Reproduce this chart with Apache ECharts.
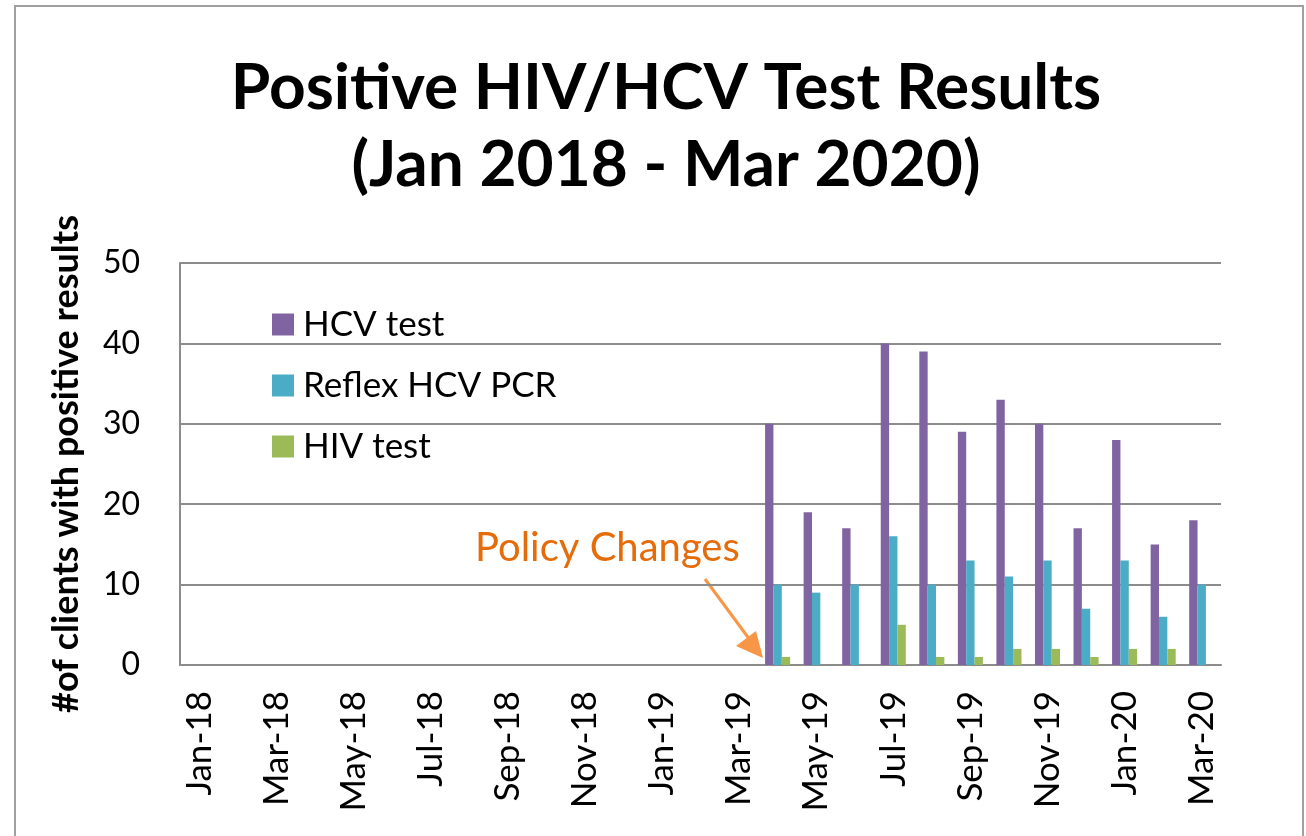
<!DOCTYPE html>
<html>
<head>
<meta charset="utf-8">
<script src="https://cdn.jsdelivr.net/npm/echarts@6/dist/echarts.min.js"></script>
<style>
  html, body { margin: 0; padding: 0; background: #fff; }
  #chart { width: 1306px; height: 836px; }
</style>
</head>
<body>
<div id="chart"></div>
<script>
// months on the category axis
const months = [
  "Jan-18", "Feb-18", "Mar-18", "Apr-18", "May-18", "Jun-18", "Jul-18", "Aug-18", "Sep-18",
  "Oct-18", "Nov-18", "Dec-18", "Jan-19", "Feb-19", "Mar-19", "Apr-19", "May-19", "Jun-19",
  "Jul-19", "Aug-19", "Sep-19", "Oct-19", "Nov-19", "Dec-19", "Jan-20", "Feb-20", "Mar-20"
];

// no data before Apr-19
const hcvTest = [
  0, 0, 0, 0, 0, 0, 0, 0, 0, 0, 0, 0, 0, 0, 0,
  30, 19, 17, 40, 39, 29, 33, 30, 17, 28, 15, 18
];
const reflexPcr = [
  0, 0, 0, 0, 0, 0, 0, 0, 0, 0, 0, 0, 0, 0, 0,
  10, 9, 10, 16, 10, 13, 11, 13, 7, 13, 6, 10
];
const hivTest = [
  0, 0, 0, 0, 0, 0, 0, 0, 0, 0, 0, 0, 0, 0, 0,
  1, 0, 0, 5, 1, 1, 2, 2, 1, 2, 2, 0
];

const yTicks = [0, 10, 20, 30, 40, 50];

const FONT = "Lato";
const AXIS_GREY = "#8c8c8c";

const chart = echarts.init(document.getElementById("chart"));

const option = {
  animation: false,
  backgroundColor: "#fff",
  textStyle: { fontFamily: FONT },
  title: {
    text: "Positive HIV/HCV Test Results\n(Jan 2018 - Mar 2020)",
    left: 661,
    top: 45,
    textAlign: "center",
    textStyle: {
      fontFamily: FONT,
      fontWeight: "bold",
      fontSize: 64,
      lineHeight: 77,
      color: "#000",
    },
  },
  legend: {
    orient: "vertical",
    left: 267,
    top: 302,
    itemWidth: 22,
    itemHeight: 22,
    itemGap: 26,
    icon: "rect",
    data: ["HCV test", "Reflex HCV PCR", "HIV test"],
    textStyle: {
      fontFamily: FONT,
      fontSize: 35,
      color: "#000",
      padding: [0, 0, 0, 4],
    },
  },
  grid: {
    left: 180,
    right: 85,
    top: 263,
    bottom: 171,
    containLabel: false,
  },
  xAxis: {
    type: "category",
    data: months,
    axisLine: { lineStyle: { color: AXIS_GREY, width: 2 } },
    axisTick: { show: false },
    axisLabel: {
      interval: 1,
      rotate: 90,
      margin: 26,
      fontFamily: FONT,
      fontSize: 35,
      color: "#000",
    },
  },
  yAxis: {
    type: "value",
    min: yTicks[0],
    max: yTicks[yTicks.length - 1],
    interval: 10,
    name: "#of clients with positive results",
    nameLocation: "middle",
    nameRotate: 90,
    nameGap: 96,
    nameTextStyle: {
      fontFamily: FONT,
      fontWeight: "bold",
      fontSize: 36,
      color: "#000",
    },
    axisLine: { show: true, lineStyle: { color: AXIS_GREY, width: 2 } },
    axisTick: { show: false },
    splitLine: { lineStyle: { color: AXIS_GREY, width: 2 } },
    axisLabel: {
      margin: 40,
      fontFamily: FONT,
      fontSize: 32,
      color: "#000",
    },
  },
  series: [
    {
      name: "HCV test",
      type: "bar",
      data: hcvTest,
      itemStyle: { color: "#8064A2" },
      barGap: "0%",
      barCategoryGap: "35%",
    },
    {
      name: "Reflex HCV PCR",
      type: "bar",
      data: reflexPcr,
      itemStyle: { color: "#4BACC6" },
    },
    {
      name: "HIV test",
      type: "bar",
      data: hivTest,
      itemStyle: { color: "#9BBB59" },
    },
  ],
  graphic: [
    // outer chart frame
    {
      type: "polyline",
      shape: { points: [[15, 836], [15, 6], [1303, 6], [1303, 836]] },
      style: { stroke: "#a0a0a0", lineWidth: 2, fill: null },
      silent: true,
    },
    // annotation
    {
      type: "text",
      left: 475,
      top: 528,
      style: {
        text: "Policy Changes",
        fontFamily: FONT,
        fontSize: 40,
        fill: "#E46C0A",
      },
    },
    {
      type: "line",
      shape: { x1: 705, y1: 579, x2: 750, y2: 640 },
      style: { stroke: "#F79646", lineWidth: 3 },
    },
    {
      type: "polygon",
      shape: { points: [[763, 658], [736, 646], [756, 631]] },
      style: { fill: "#F79646" },
    },
  ],
};

chart.setOption(option);
</script>
</body>
</html>
